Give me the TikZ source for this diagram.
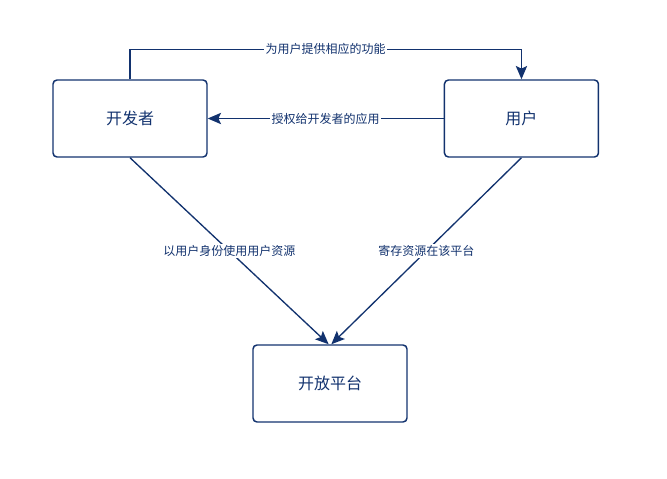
\documentclass[tikz,border=0pt]{standalone}
\usepackage{fontspec}
\setmainfont{Noto Sans CJK SC}
\usetikzlibrary{arrows.meta,positioning}
\definecolor{navy}{HTML}{12326E}
\begin{document}
\begin{tikzpicture}[
  x=0.75pt, y=-0.75pt,
  box/.style={draw=navy, line width=1.1pt, rounded corners=3pt, align=center,
    minimum width=115.5pt, minimum height=57.75pt, text=navy, font=\fontsize{12}{14}\selectfont},
  lbl/.style={fill=white, text=navy, inner sep=1pt, font=\fontsize{9}{11}\selectfont},
  arrow/.style={-{Stealth[length=10pt, width=8.5pt, inset=2pt]}, draw=navy, line width=1pt}
]
\useasboundingbox (0,0) rectangle (667,478);
\node[box] (dev) at (130,118.5) {开发者};
\node[box, right=177pt of dev] (user) {用户};
\node[box] (plat) at (330,383.5) {开放平台};
\draw[arrow] (dev.north) -- ++(0,-30) -| (user.north)
  node[lbl, pos=0.25] {为用户提供相应的功能};
\draw[arrow] (user.west) -- (dev.east)
  node[lbl, midway] {授权给开发者的应用};
\draw[arrow] (dev.south) -- ([xshift=-1pt]plat.north)
  node[lbl, pos=0.5] {以用户身份使用用户资源};
\draw[arrow] (user.south) -- ([xshift=1pt]plat.north)
  node[lbl, pos=0.5] {寄存资源在该平台};
\end{tikzpicture}
\end{document}
